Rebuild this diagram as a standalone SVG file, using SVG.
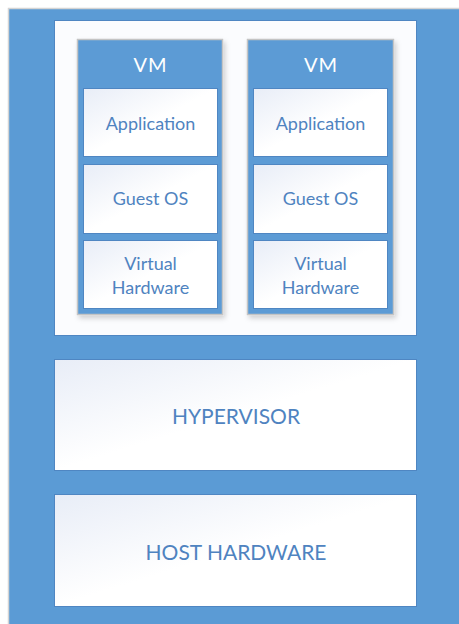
<svg xmlns="http://www.w3.org/2000/svg" width="459" height="624" viewBox="0 0 459 624">
<defs>
<linearGradient id="g" x1="0" y1="0" x2="1" y2="1">
<stop offset="0" stop-color="#e8edf7"/>
<stop offset="0.5" stop-color="#ffffff"/>
<stop offset="1" stop-color="#ffffff"/>
</linearGradient>
<filter id="sh" x="-10%" y="-10%" width="130%" height="130%">
<feDropShadow dx="2" dy="3" stdDeviation="2.5" flood-color="#000" flood-opacity="0.18"/>
</filter>
</defs>
<style>
.box{fill:url(#g);stroke:#4f86c2;stroke-width:1}
.vm{fill:#5b9bd5;stroke:#c4c4c4;stroke-width:1.5}
.t{font-family:Lato,"Liberation Sans",sans-serif;fill:#4f83c0;text-anchor:middle}
.w{font-family:Lato,"Liberation Sans",sans-serif;fill:#ffffff;text-anchor:middle;font-size:20px;letter-spacing:1px}
</style>
<rect width="459" height="624" fill="#ffffff"/>
<g id="host-panel">
<rect x="8.5" y="8.5" width="452" height="617" fill="#5b9bd5" stroke="#d4d4d4" stroke-width="1.5"/>
</g>
<g id="vm-container">
<rect x="54.5" y="20.5" width="362" height="315" class="box" style="fill:#fbfcfe"/>
</g>
<g id="vm1">
<rect x="77.5" y="39.5" width="145" height="275" class="vm" filter="url(#sh)"/>
<text x="150.5" y="72" class="w">VM</text>
<g id="vm1-app"><rect x="83.5" y="88.5" width="134" height="68" class="box"/><text x="150.5" y="130" class="t" font-size="18">Application</text></g>
<g id="vm1-os"><rect x="83.5" y="164.5" width="134" height="69" class="box"/><text x="150.5" y="205" class="t" font-size="18">Guest OS</text></g>
<g id="vm1-hw"><rect x="83.5" y="240.5" width="134" height="68" class="box"/><text x="150.5" y="270" class="t" font-size="18">Virtual</text><text x="150.5" y="294" class="t" font-size="18">Hardware</text></g>
</g>
<g id="vm2">
<rect x="247.5" y="39.5" width="146" height="275" class="vm" filter="url(#sh)"/>
<text x="321" y="72" class="w">VM</text>
<g id="vm2-app"><rect x="253.5" y="88.5" width="134" height="68" class="box"/><text x="320.5" y="130" class="t" font-size="18">Application</text></g>
<g id="vm2-os"><rect x="253.5" y="164.5" width="134" height="69" class="box"/><text x="320.5" y="205" class="t" font-size="18">Guest OS</text></g>
<g id="vm2-hw"><rect x="253.5" y="240.5" width="134" height="68" class="box"/><text x="320.5" y="270" class="t" font-size="18">Virtual</text><text x="320.5" y="294" class="t" font-size="18">Hardware</text></g>
</g>
<g id="hypervisor">
<rect x="54.5" y="359.5" width="362" height="111" class="box"/>
<text x="236" y="424" class="t" font-size="21">HYPERVISOR</text>
</g>
<g id="host-hardware">
<rect x="54.5" y="494.5" width="362" height="112" class="box"/>
<text x="236" y="560" class="t" font-size="21">HOST HARDWARE</text>
</g>
<g id="connectors"/>
</svg>
